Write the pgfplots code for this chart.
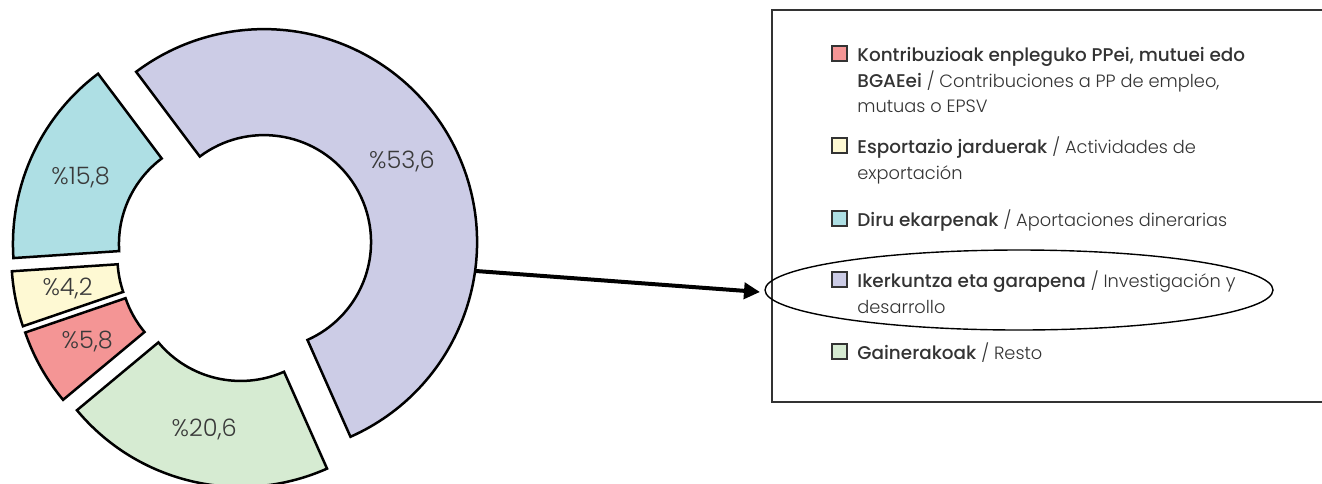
\documentclass[border=0pt]{standalone}
\usepackage{pgfplots}
\pgfplotsset{compat=1.18}
\usepackage{fontspec}
\setmainfont{Poppins}[UprightFont=* Light, BoldFont=* Medium]
\usetikzlibrary{arrows.meta}

\definecolor{cred}{HTML}{F49595}
\definecolor{cyel}{HTML}{FEF9D3}
\definecolor{ccyan}{HTML}{AEDFE4}
\definecolor{cpurp}{HTML}{CCCCE6}
\definecolor{cgreen}{HTML}{D6EBD2}
\definecolor{lab}{HTML}{3A3A3A}
\definecolor{ltxt}{HTML}{333333}

% one exploded donut slice: start angle, end angle, fill, label
\newcommand\slice[4]{%
  \draw[fill=#3, line width=1.25pt, line join=miter]
    (axis cs:245.5,253) ++({(#1+#2)/2}:10.75pt) ++(#1:53.5pt) -- ++(#1:53pt)
    arc[start angle=#1, end angle=#2, radius=106.5pt] -- ++(#2:-53pt)
    arc[start angle=#2, end angle=#1, radius=53.5pt] -- cycle;
  \path (axis cs:245.5,253) ++({(#1+#2)/2}:90.75pt)
    node[text=lab, font=\fontsize{12}{14}\selectfont] {#4};
}
\newcommand\bo[1]{{\fontsize{9.2}{12}\selectfont\bfseries #1}}
\tikzset{ltx/.style={anchor=base west, inner sep=0pt, text=ltxt, font=\fontsize{8.9}{12}\selectfont}}
% legend entry: baseline y, fill, first line
\newcommand\entry[3]{%
  \draw[fill=#2, line width=0.6pt, draw=black!80] (axis cs:832,#1-15) rectangle (axis cs:847,#1);
  \node[ltx] at (axis cs:857,#1) {#3};
}

\begin{document}
\begin{tikzpicture}
  % shares in %, counter-clockwise from the top-left gap
  \pgfmathsetmacro\vCyan{15.8}
  \pgfmathsetmacro\vYel{4.2}
  \pgfmathsetmacro\vRed{5.8}
  \pgfmathsetmacro\vGreen{20.6}
  \pgfmathsetmacro\vPurp{53.6}
  \pgfmathsetmacro\sA{126.9}
  \pgfmathsetmacro\sB{\sA+3.6*\vCyan}
  \pgfmathsetmacro\sC{\sB+3.6*\vYel}
  \pgfmathsetmacro\sD{\sC+3.6*\vRed}
  \pgfmathsetmacro\sE{\sD+3.6*\vGreen}
  \pgfmathsetmacro\sF{\sE+3.6*\vPurp}
  \begin{axis}[width=661pt, height=241.5pt, scale only axis,
      xmin=0, xmax=1322, ymin=0, ymax=483, y dir=reverse, hide axis]
    \slice{\sA}{\sB}{ccyan}{\%15,8}
    \slice{\sB}{\sC}{cyel}{\%4,2}
    \slice{\sC}{\sD}{cred}{\%5,8}
    \slice{\sD}{\sE}{cgreen}{\%20,6}
    \slice{\sE}{\sF}{cpurp}{\%53,6}

    \draw[line width=1pt, draw=black!80] (axis cs:1340,10) -- (axis cs:772,10) -- (axis cs:772,402) -- (axis cs:1340,402);
    \draw[line width=2pt, -{Triangle[length=8pt, width=8pt]}] (axis cs:476,271) -- (axis cs:760,292);
    \draw[line width=0.7pt] (axis cs:1019,290) ellipse [x radius=127pt, y radius=20pt];

    \entry{61}{cred}{\bo{Kontribuzioak enpleguko PPei, mutuei edo}}
    \node[ltx] at (axis cs:857,87) {\bo{BGAEei} / Contribuciones a PP de empleo,};
    \node[ltx] at (axis cs:857,112) {mutuas o EPSV};
    \entry{153}{cyel}{\bo{Esportazio jarduerak} / Actividades de}
    \node[ltx] at (axis cs:857,179) {exportación};
    \entry{226}{ccyan}{\bo{Diru ekarpenak} / Aportaciones dinerarias}
    \entry{287}{cpurp}{\bo{Ikerkuntza eta garapena} / Investigación y}
    \node[ltx] at (axis cs:857,313) {desarrollo};
    \entry{359}{cgreen}{\bo{Gainerakoak} / Resto}
  \end{axis}
  \pgfresetboundingbox
  \path (current axis.south west) rectangle (current axis.north east);
\end{tikzpicture}
\end{document}
